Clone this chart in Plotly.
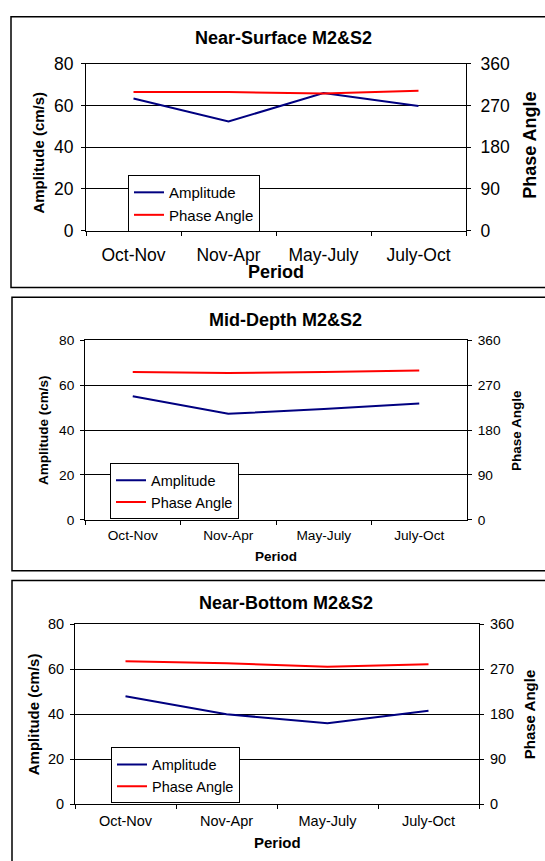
import plotly.graph_objects as go

# ---------------- data ----------------
periods = ["Oct-Nov", "Nov-Apr", "May-July", "July-Oct"]

surface_amp = [63.3, 52.3, 66.0, 59.8]
surface_phase = [299, 299, 296, 302]

mid_amp = [55.0, 47.2, 49.4, 51.8]
mid_phase = [296, 294, 296, 299]

bottom_amp = [48.0, 40.0, 36.0, 41.6]
bottom_phase = [286, 282, 275, 280]

panel_titles = ["Near-Surface M2&S2", "Mid-Depth M2&S2", "Near-Bottom M2&S2"]
amp_ticks = [0, 20, 40, 60, 80]
phase_ticks = [0, 90, 180, 270, 360]

# ---------------- layout helpers ----------------
W, H = 545, 861
FONT = "Liberation Sans, Arial, sans-serif"
AMP_COLOR = "#000080"
PHASE_COLOR = "#FF0000"


def px(x):
    return x / W


def py(y):
    return 1 - y / H


panels = [
    dict(amp=surface_amp, phase=surface_phase,
         plot=(86, 466, 55, 226), tick=17.5, title_xy=(283, 29), title_size=18,
         xlab_xy=(276, 268), xlab_size=18,
         ltitle=(39, 146, 15), rtitle=(530, 139, 18),
         legend=(128, 169), legend_size=15,
         border=(11, 7, 284), xstand=8, lstand=4, rstand=6),
    dict(amp=mid_amp, phase=mid_phase,
         plot=(85, 467, 338, 522), tick=13.7, title_xy=(285, 317), title_size=18,
         xlab_xy=(276, 559), xlab_size=13.5,
         ltitle=(43, 430, 13.5), rtitle=(517, 431, 13.5),
         legend=(110, 464), legend_size=14.5,
         border=(12, 294, 574), xstand=3, lstand=3, rstand=3),
    dict(amp=bottom_amp, phase=bottom_phase,
         plot=(75, 479, 629, 813), tick=14.5, title_xy=(286, 607), title_size=18,
         xlab_xy=(277, 852), xlab_size=15,
         ltitle=(33, 721, 15), rtitle=(529, 722, 15),
         legend=(111, 755), legend_size=14.5,
         border=(12, 584, 900), xstand=3, lstand=3, rstand=3),
]

fig = go.Figure()
layout = dict(
    width=W, height=H,
    margin=dict(l=0, r=0, t=0, b=0),
    paper_bgcolor="white", plot_bgcolor="white",
    font=dict(family=FONT, color="black"),
    annotations=[], shapes=[],
)

for i, p in enumerate(panels):
    n = i + 1
    xa = "x" if n == 1 else f"x{n}"
    ya_left_idx = 2 * n - 1
    ya_right_idx = 2 * n
    ya_left = "y" if ya_left_idx == 1 else f"y{ya_left_idx}"
    ya_right = f"y{ya_right_idx}"
    leg = "legend" if n == 1 else f"legend{n}"

    x0, x1, y0, y1 = p["plot"]

    fig.add_trace(go.Scatter(
        x=periods, y=p["amp"], name="Amplitude", mode="lines",
        line=dict(color=AMP_COLOR, width=2),
        xaxis=xa, yaxis=ya_left, legend=leg))
    fig.add_trace(go.Scatter(
        x=periods, y=p["phase"], name="Phase Angle", mode="lines",
        line=dict(color=PHASE_COLOR, width=2),
        xaxis=xa, yaxis=ya_right, legend=leg))

    xkey = "xaxis" if n == 1 else f"xaxis{n}"
    ylkey = "yaxis" if ya_left_idx == 1 else f"yaxis{ya_left_idx}"
    yrkey = f"yaxis{ya_right_idx}"

    layout[xkey] = dict(
        domain=[px(x0), px(x1)], anchor=ya_left,
        type="category", categoryorder="array", categoryarray=periods,
        range=[-0.5, 3.5], tickson="boundaries",
        ticks="outside", ticklen=4, tickcolor="black", tickwidth=1,
        showline=True, linecolor="black", linewidth=1, mirror=True,
        showgrid=False, zeroline=False,
        tickfont=dict(family=FONT, size=p["tick"], color="black"),
        ticklabelstandoff=p["xstand"],
    )
    layout[ylkey] = dict(
        domain=[py(y1), py(y0)], anchor=xa,
        range=[0, 80], tickmode="array", tickvals=amp_ticks,
        ticks="outside", ticklen=4, tickcolor="black", tickwidth=1,
        showline=True, linecolor="black", linewidth=1,
        showgrid=True, gridcolor="black", gridwidth=1, zeroline=False,
        tickfont=dict(family=FONT, size=p["tick"], color="black"),
        ticklabelstandoff=p["lstand"],
    )
    layout[yrkey] = dict(
        overlaying=ya_left, side="right", anchor=xa,
        range=[0, 360], tickmode="array", tickvals=phase_ticks,
        ticks="outside", ticklen=4, tickcolor="black", tickwidth=1,
        showline=True, linecolor="black", linewidth=1,
        showgrid=False, zeroline=False,
        tickfont=dict(family=FONT, size=p["tick"], color="black"),
        ticklabelstandoff=p["rstand"],
    )

    lx, ly = p["legend"]
    layout[leg] = dict(
        x=px(lx), y=py(ly), xref="paper", yref="paper",
        xanchor="left", yanchor="top",
        bgcolor="white", bordercolor="black", borderwidth=1,
        font=dict(family=FONT, size=p["legend_size"], color="black"),
        tracegroupgap=0, itemwidth=30,
    )

    # panel title
    tx, ty = p["title_xy"]
    layout["annotations"].append(dict(
        text=f"<b>{panel_titles[i]}</b>", x=px(tx), y=py(ty),
        xref="paper", yref="paper", xanchor="center", yanchor="middle",
        showarrow=False, font=dict(family=FONT, size=p["title_size"], color="black")))
    # x-axis title
    xx, xy = p["xlab_xy"]
    layout["annotations"].append(dict(
        text="<b>Period</b>", x=px(xx), y=py(xy),
        xref="paper", yref="paper", xanchor="center", yanchor="middle",
        showarrow=False, font=dict(family=FONT, size=p["xlab_size"], color="black")))
    # left y title
    lxx, lyy, lsz = p["ltitle"]
    layout["annotations"].append(dict(
        text="<b>Amplitude (cm/s)</b>", x=px(lxx), y=py(lyy), textangle=-90,
        xref="paper", yref="paper", xanchor="center", yanchor="middle",
        showarrow=False, font=dict(family=FONT, size=lsz, color="black")))
    # right y title
    rxx, ryy, rsz = p["rtitle"]
    layout["annotations"].append(dict(
        text="<b>Phase Angle</b>", x=px(rxx), y=py(ryy), textangle=-90,
        xref="paper", yref="paper", xanchor="center", yanchor="middle",
        showarrow=False, font=dict(family=FONT, size=rsz, color="black")))

    # outer chart border
    bx, bt, bb = p["border"]
    layout["shapes"].append(dict(
        type="rect", xref="paper", yref="paper",
        x0=px(bx), x1=px(W + 20), y0=py(bb), y1=py(bt),
        line=dict(color="black", width=1.5), fillcolor="rgba(0,0,0,0)", layer="below"))

fig.update_layout(**layout)
fig.write_html("out.html")
